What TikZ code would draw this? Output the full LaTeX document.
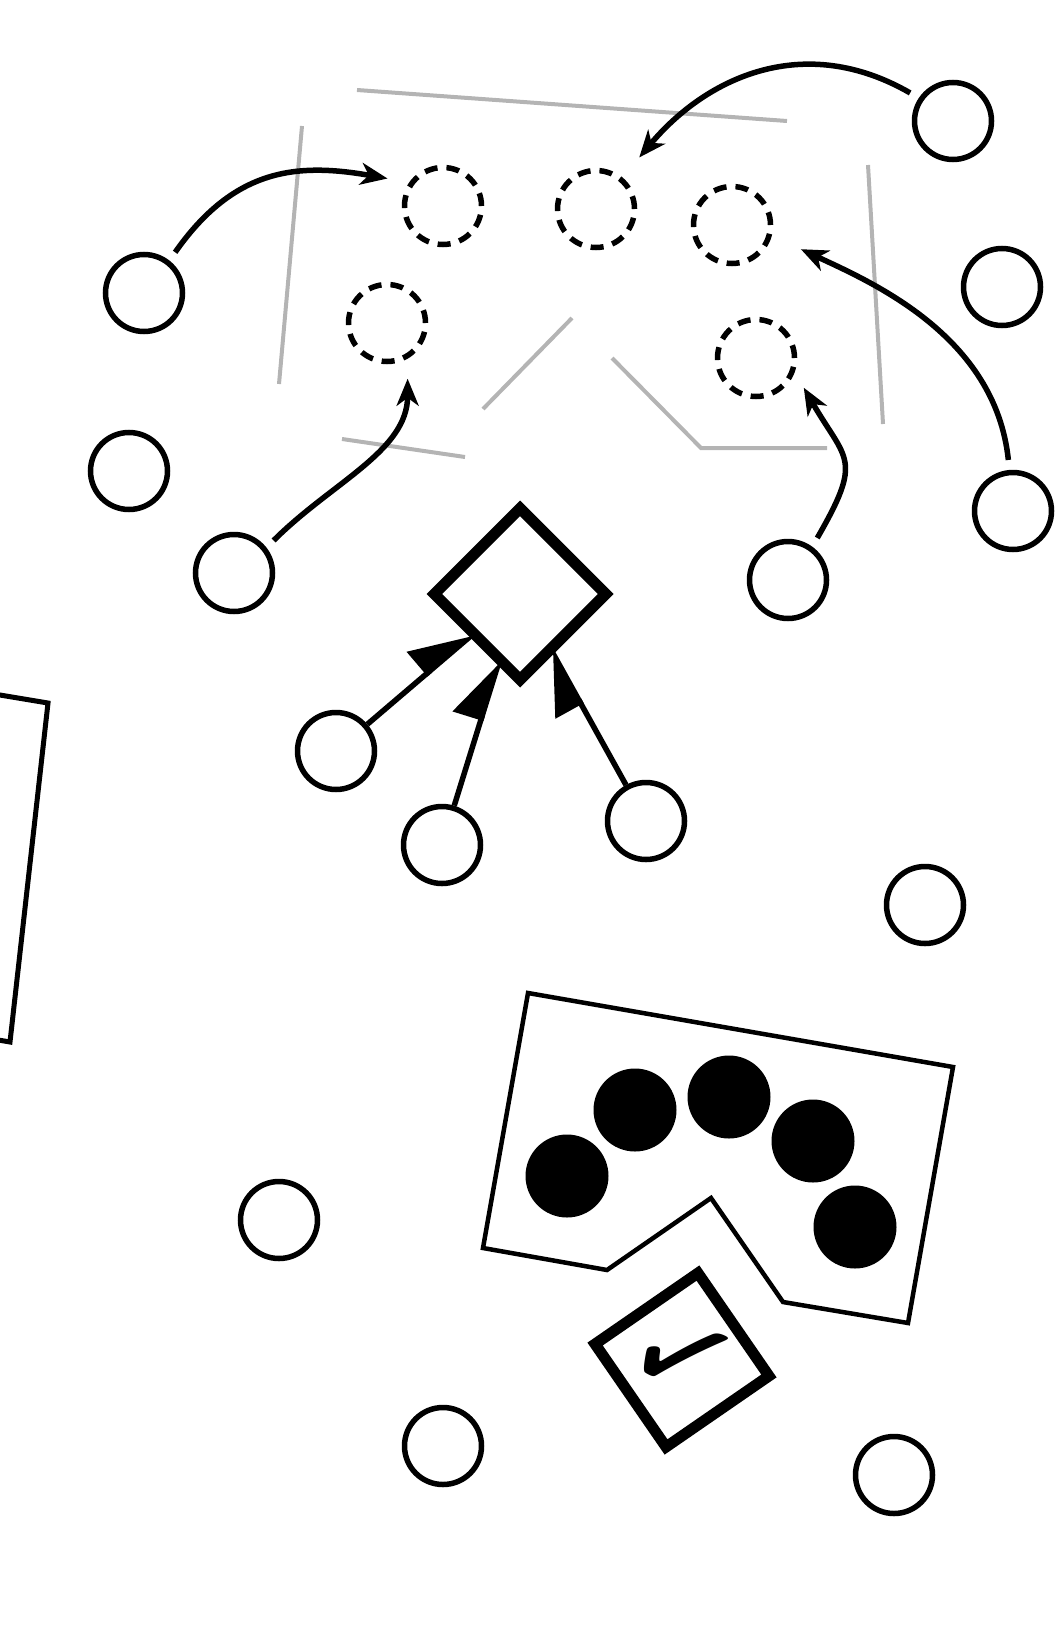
\documentclass[tikz,border=0pt]{standalone}
\usepackage{amsmath}
\usepackage{amssymb}
\usepackage{fontspec}
\usepackage{xcolor}
\usepackage{tikz}
\usetikzlibrary{positioning}
\usetikzlibrary{calc}
\usetikzlibrary{arrows.meta}
\usetikzlibrary{shapes.geometric}

\newfontfamily\symfont{DejaVu Sans}
\definecolor{wallgray}{HTML}{B4B4B4}

\begin{document}
\begin{tikzpicture}[x=1pt, y=1pt,
    player/.style={circle, draw, line width=5.5pt, minimum size=77pt, inner sep=0pt},
    ghost/.style={player, dash pattern=on 13pt off 9pt},
    ball/.style={circle, fill=black, minimum size=83pt, inner sep=0pt},
    wall/.style={wallgray, line width=4pt},
    move/.style={line width=5.5pt, -{Stealth[length=27pt, width=22pt, inset=8pt]}, shorten <=10pt},
    pass/.style={line width=5.5pt, -{Triangle[harpoon, length=58pt, width=58pt]}, shorten >=-6pt}]
    \useasboundingbox (0,0) rectangle (1056,-1632);
    \clip (0,0) rectangle (1056,-1632);

    \draw[wall] (357,-90) -- (787,-121);
    \draw[wall] (302,-126) -- (279,-384);
    \draw[wall] (868,-165) -- (883,-424);
    \draw[wall] (572,-318) -- (483,-409);
    \draw[wall] (612,-358) -- (701,-448) -- (827,-448);
    \draw[wall] (342,-439) -- (465,-457);

    \node[ghost] (t1) at (443,-206) {};
    \node[ghost] (t2) at (596,-209) {};
    \node[ghost] (t3) at (732,-225) {};
    \node[ghost] (t4) at (387,-323) {};
    \node[ghost] (t5) at (756,-358) {};

    \node[player] (p1) at (953,-121) {};
    \node[player] (p2) at (1002,-287) {};
    \node[player] (p3) at (1013,-511) {};
    \node[player] (p4) at (144,-293) {};
    \node[player] (p5) at (129,-471) {};
    \node[player] (p6) at (234,-573) {};
    \node[player] (p7) at (788,-580) {};
    \node[player] (p8) at (336,-751) {};
    \node[player] (p9) at (442,-845) {};
    \node[player] (p10) at (646,-821) {};
    \node[player] (p11) at (925,-905) {};
    \node[player] (p12) at (279,-1220) {};
    \node[player] (p13) at (443,-1446) {};
    \node[player] (p14) at (894,-1475) {};

    \draw[move, shorten >=22pt, looseness=1.15] (p4.52) to[out=55, in=170] (t1.145);
    \draw[move, shorten >=26pt, looseness=1.1] (p1.146) to[out=150, in=50] (t2.50);
    \draw[move, shorten >=32pt] (p3.95) to[out=96, in=-25, out distance=135pt, in distance=110pt] (t3.-15);
    \draw[move, shorten >=20pt] (p6.38) to[out=45, in=270] (t4.-60);
    \draw[move, shorten >=18pt, looseness=1.5] (p7.54) to[out=60, in=300] (t5.-20);

    \node[diamond, draw, fill=white, line width=11pt, minimum size=176pt, inner sep=0pt] (goal) at (520,-594) {};
    \draw[pass] (p8) -- (goal);
    \draw[pass] (p9) -- (goal);
    \draw[pass] (p10) -- (goal);

    \draw[line width=5pt] (-60,-685) -- (48,-703) -- (10,-1042) -- (-60,-1030);

    \draw[line width=4.5pt] (528,-993) -- (953,-1067) -- (908,-1323) -- (783,-1302)
        -- (711,-1198) -- (607,-1270) -- (483,-1248) -- cycle;
    \node[ball] (b1) at (567,-1176) {};
    \node[ball] (b2) at (635,-1110) {};
    \node[ball] (b3) at (729,-1097) {};
    \node[ball] (b4) at (813,-1141) {};
    \node[ball] (b5) at (855,-1227) {};

    \node[draw, line width=11pt, minimum size=125pt, inner sep=0pt, rotate=34.6] (box) at (682,-1360) {};
    \node[inner sep=0pt, rotate=-27] (tick) at (box.center) {\fontsize{130}{130}\selectfont\symfont ✓};
\end{tikzpicture}
\end{document}
